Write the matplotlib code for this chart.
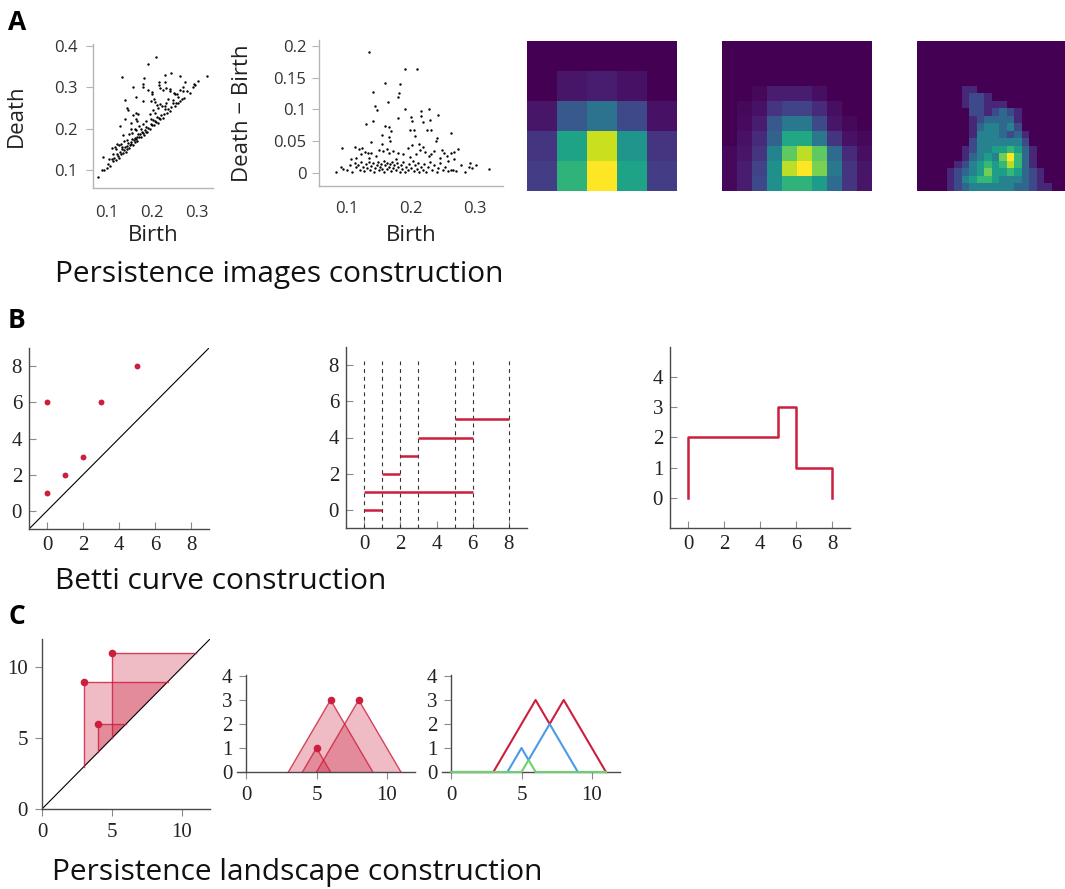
import numpy as np
import matplotlib
matplotlib.use("Agg")
import matplotlib.pyplot as plt

# ----------------------------------
# DATA
# ----------------------------------

# panel A: persistence diagram, (birth, death - birth)
births = [
    0.134, 0.141, 0.159, 0.191, 0.210, 0.182, 0.181, 0.180, 0.164, 0.191,
    0.144, 0.147, 0.141, 0.130, 0.228, 0.215, 0.200, 0.201, 0.216, 0.218,
    0.242, 0.180, 0.230, 0.225, 0.232, 0.159, 0.166, 0.169, 0.154, 0.166,
    0.167, 0.198, 0.204, 0.241, 0.239, 0.263, 0.206, 0.137, 0.155,
    0.092, 0.112, 0.118, 0.124, 0.128, 0.132, 0.138, 0.121, 0.145, 0.150,
    0.156, 0.162, 0.166, 0.172, 0.180, 0.188, 0.196, 0.202, 0.212, 0.219,
    0.214, 0.222, 0.208, 0.232, 0.236, 0.249, 0.252, 0.256, 0.262, 0.268,
    0.274, 0.246, 0.228, 0.198, 0.176, 0.114, 0.106, 0.134, 0.268, 0.258,
    0.082, 0.090, 0.094, 0.100, 0.104, 0.108, 0.112, 0.114, 0.117, 0.120,
    0.122, 0.125, 0.127, 0.130, 0.131, 0.134, 0.136, 0.138, 0.140, 0.142,
    0.144, 0.146, 0.148, 0.150, 0.151, 0.153, 0.155, 0.157, 0.158, 0.160,
    0.162, 0.163, 0.165, 0.167, 0.168, 0.170, 0.172, 0.174, 0.176, 0.178,
    0.180, 0.182, 0.184, 0.186, 0.188, 0.190, 0.192, 0.195, 0.197, 0.200,
    0.203, 0.205, 0.207, 0.209, 0.211, 0.213, 0.215, 0.218, 0.220, 0.224,
    0.227, 0.230, 0.233, 0.236, 0.240, 0.243, 0.246, 0.250, 0.253, 0.258,
    0.262, 0.266, 0.271, 0.278, 0.284, 0.290, 0.293, 0.296, 0.301, 0.322,
]
persist = [
    0.190, 0.128, 0.142, 0.164, 0.163, 0.140, 0.126, 0.120, 0.112, 0.101,
    0.105, 0.099, 0.082, 0.077, 0.101, 0.097, 0.088, 0.082, 0.089, 0.080,
    0.091, 0.086, 0.083, 0.067, 0.067, 0.074, 0.072, 0.066, 0.059, 0.057,
    0.051, 0.068, 0.068, 0.055, 0.051, 0.063, 0.058, 0.048, 0.045,
    0.040, 0.041, 0.038, 0.040, 0.033, 0.031, 0.032, 0.030, 0.027, 0.036,
    0.034, 0.037, 0.031, 0.035, 0.032, 0.030, 0.040, 0.044, 0.045, 0.041,
    0.036, 0.033, 0.030, 0.030, 0.035, 0.036, 0.031, 0.027, 0.032, 0.033,
    0.038, 0.024, 0.026, 0.025, 0.022, 0.024, 0.022, 0.023, 0.022, 0.019,
    0.002, 0.010, 0.007, 0.004, 0.012, 0.002, 0.015, 0.009, 0.013, 0.005,
    0.017, 0.010, 0.003, 0.014, 0.008, 0.018, 0.005, 0.011, 0.015, 0.002,
    0.008, 0.012, 0.017, 0.004, 0.010, 0.014, 0.007, 0.019, 0.002, 0.012,
    0.016, 0.006, 0.010, 0.014, 0.003, 0.018, 0.008, 0.012, 0.004, 0.015,
    0.009, 0.002, 0.013, 0.006, 0.017, 0.001, 0.010, 0.004, 0.014, 0.008,
    0.019, 0.003, 0.012, 0.006, 0.016, 0.001, 0.010, 0.005, 0.014, 0.002,
    0.009, 0.018, 0.004, 0.012, 0.002, 0.008, 0.015, 0.004, 0.010, 0.003,
    0.004, 0.005, 0.003, 0.013, 0.001, 0.010, 0.015, 0.008, 0.013, 0.006,
]

# panel A: persistence images at three resolutions
img_coarse = [
    [0.00, 0.00, 0.00, 0.00, 0.00],
    [0.00, 0.06, 0.08, 0.05, 0.00],
    [0.06, 0.28, 0.38, 0.22, 0.05],
    [0.15, 0.58, 0.92, 0.52, 0.15],
    [0.18, 0.65, 1.00, 0.58, 0.18],
]
img_medium = [
    [0, 0, 0, 0, 0, 0, 0, 0, 0, 0],
    [0, 0, 0, 0, 0, 0, 0, 0, 0, 0],
    [0, 0, 0, 0, 0, 0, 0, 0, 0, 0],
    [0, 0, 0.02, 0.08, 0.08, 0.08, 0.04, 0, 0, 0],
    [0, 0.02, 0.05, 0.15, 0.2, 0.2, 0.12, 0.04, 0, 0],
    [0, 0.03, 0.08, 0.28, 0.4, 0.4, 0.22, 0.06, 0.02, 0],
    [0, 0.05, 0.12, 0.32, 0.6, 0.6, 0.4, 0.15, 0.05, 0.02],
    [0.02, 0.06, 0.15, 0.45, 0.75, 0.9, 0.75, 0.35, 0.12, 0.04],
    [0.02, 0.08, 0.2, 0.5, 0.9, 1.0, 0.8, 0.4, 0.15, 0.06],
    [0.02, 0.08, 0.22, 0.5, 0.65, 0.65, 0.55, 0.35, 0.15, 0.06],
]
img_fine_rows = [
    "00000000000000000000",
    "00000000000000000000",
    "00000000000000000000",
    "00000000000000000000",
    "00000000000000000000",
    "00000000000000000000",
    "00000011000000000000",
    "00000012210000000000",
    "00000012211100000000",
    "00000002212321000000",
    "00000001233331000000",
    "00000001344342000000",
    "00000001444323100000",
    "00000002444444200000",
    "00000012445565310000",
    "00000013454796310000",
    "00000124565686310000",
    "00001234575565321000",
    "00001245665444321000",
    "00001234444443321100",
]

# panel B: toy diagram
b_births = [0, 0, 1, 2, 3, 5]
b_deaths = [1, 6, 2, 3, 6, 8]
b_ticks = [0, 2, 4, 6, 8]

# panel C: toy diagram
c_births = [3, 5, 4]
c_deaths = [9, 11, 6]
c_ticks = [0, 5, 10]
c_yticks = [0, 1, 2, 3, 4]

# ----------------------------------
# STYLE
# ----------------------------------
W, H = 1065, 889
RED = '#cc1f3d'
BLUE = '#4a9be6'
GREEN = '#6fcf6f'
SANS = 'Open Sans'
SERIF = 'Liberation Serif'

fig = plt.figure(figsize=(W / 100, H / 100), dpi=100)
fig.patch.set_facecolor('white')


def px_axes(x0, y0, x1, y1):
    return fig.add_axes([x0 / W, 1 - y1 / H, (x1 - x0) / W, (y1 - y0) / H])


def style_a(ax, ypad, xpad):
    for s in ['top', 'right']:
        ax.spines[s].set_visible(False)
    for s in ['left', 'bottom']:
        ax.spines[s].set_color('#b5b5b5')
        ax.spines[s].set_linewidth(1.0)
    ax.tick_params(axis='y', direction='out', length=5, width=0.8,
                   color='#b5b5b5', labelsize=12, labelcolor='#333333', pad=ypad)
    ax.tick_params(axis='x', length=0, labelsize=12, labelcolor='#333333', pad=xpad)
    plt.setp(ax.get_xticklabels() + ax.get_yticklabels(), family=SANS)


def style_serif(ax, direction, length=5):
    for s in ['top', 'right']:
        ax.spines[s].set_visible(False)
    for s in ['left', 'bottom']:
        ax.spines[s].set_color('#4a4a4a')
        ax.spines[s].set_linewidth(1.0)
    ax.tick_params(direction=direction, length=length, width=0.8, color='#8a8a8a',
                   labelsize=15, labelcolor='#222222', pad=5)
    plt.setp(ax.get_xticklabels() + ax.get_yticklabels(), family=SERIF)


births = np.array(births)
persist = np.array(persist)
deaths = births + persist

# ----------------------------------
# PANEL A
# ----------------------------------
ax = px_axes(93, 44, 213, 188)
ax.scatter(births, deaths, s=3, color='black', linewidths=0)
ax.set_xlim(0.07, 0.335)
ax.set_ylim(0.057, 0.404)
ax.set_xticks([0.1, 0.2, 0.3])
ax.set_yticks([0.1, 0.2, 0.3, 0.4])
ax.set_xticklabels(['0.1', '0.2', '0.3'])
ax.set_yticklabels(['0.1', '0.2', '0.3', '0.4'])
style_a(ax, 6, 12)
ax.set_xlabel('Birth', fontsize=16, family=SANS, color='#222222')
ax.set_ylabel('Death', fontsize=16, family=SANS, color='#222222')
ax.xaxis.set_label_coords(0.5, -0.26)
ax.yaxis.set_label_coords(-0.55, 0.5)

ax = px_axes(319, 40, 503, 186)
ax.scatter(births, persist, s=3, color='black', linewidths=0)
ax.set_xlim(0.056, 0.344)
ax.set_ylim(-0.0205, 0.209)
ax.set_xticks([0.1, 0.2, 0.3])
ax.set_yticks([0, 0.05, 0.1, 0.15, 0.2])
ax.set_xticklabels(['0.1', '0.2', '0.3'])
ax.set_yticklabels(['0', '0.05', '0.1', '0.15', '0.2'])
style_a(ax, 4, 11)
ax.set_xlabel('Birth', fontsize=16, family=SANS, color='#222222')
ax.set_ylabel('Death \u2212 Birth', fontsize=16, family=SANS, color='#222222')
ax.xaxis.set_label_coords(0.5, -0.27)
ax.yaxis.set_label_coords(-0.36, 0.5)

img_fine = np.array([[int(c) for c in row] for row in img_fine_rows]) / 9.0
for (x0, x1), img in zip([(527, 677), (722, 872), (917, 1067)],
                         [img_coarse, img_medium, img_fine]):
    ax = px_axes(x0, 41, x1, 191)
    ax.imshow(np.array(img, dtype=float), cmap='viridis', vmin=0, vmax=1,
              interpolation='nearest', aspect='auto')
    ax.axis('off')

fig.text(55 / W, 1 - 282 / H, 'Persistence images construction',
         fontsize=21.5, family=SANS, color='#111111', va='baseline')

# ----------------------------------
# PANEL B
# ----------------------------------
ax = px_axes(29, 348, 209, 529)
ax.plot([-1, 9], [-1, 9], color='black', lw=0.8)
ax.scatter(b_births, b_deaths, s=18, color=RED, zorder=3, linewidths=0)
ax.set_xlim(-1, 9)
ax.set_ylim(-1, 9)
ax.set_xticks(b_ticks)
ax.set_yticks(b_ticks)
style_serif(ax, 'in')

ax = px_axes(346, 347, 527, 528)
for x in sorted(set(b_births + b_deaths)):
    ax.plot([x, x], [-1, 8.2], color='#333333', lw=0.8, ls=(0, (3.5, 3.5)))
for i, (b, d) in enumerate(zip(b_births, b_deaths)):
    ax.plot([b, d], [i, i], color=RED, lw=1.8, solid_capstyle='butt')
ax.set_xlim(-1, 9)
ax.set_ylim(-1, 9)
ax.set_xticks(b_ticks)
ax.set_yticks(b_ticks)
style_serif(ax, 'in')

# betti curve: number of intervals alive on each piece
edges = sorted(set(b_births + b_deaths))
bx, by = [edges[0]], [0]
for lo, hi in zip(edges[:-1], edges[1:]):
    mid = (lo + hi) / 2
    n = sum(1 for b, d in zip(b_births, b_deaths) if b <= mid < d)
    bx += [lo, hi]
    by += [n, n]
bx.append(edges[-1])
by.append(0)
ax = px_axes(670, 347, 850, 528)
ax.plot(bx, by, color=RED, lw=1.8)
ax.set_xlim(-1, 9)
ax.set_ylim(-1, 5)
ax.set_xticks(b_ticks)
ax.set_yticks([0, 1, 2, 3, 4])
style_serif(ax, 'in')

fig.text(55 / W, 1 - 589 / H, 'Betti curve construction',
         fontsize=21.5, family=SANS, color='#111111', va='baseline')

# ----------------------------------
# PANEL C
# ----------------------------------
ax = px_axes(42, 639, 210, 809)
ax.plot([0, 12], [0, 12], color='black', lw=0.8)
for b, d in zip(c_births, c_deaths):
    ax.fill([b, b, d], [b, d, d], color=RED, alpha=0.3, lw=0)
    ax.plot([b, b, d], [b, d, d], color=RED, lw=1.0, alpha=0.8)
ax.scatter(c_births, c_deaths, s=30, color=RED, zorder=3, linewidths=0)
ax.set_xlim(0, 12)
ax.set_ylim(0, 12)
ax.set_xticks(c_ticks)
ax.set_yticks(c_ticks)
style_serif(ax, 'out', 5)

ax = px_axes(237, 675, 415, 772)
for b, d in zip(c_births, c_deaths):
    m, h = (b + d) / 2, (d - b) / 2
    ax.fill([b, m, d], [0, h, 0], color=RED, alpha=0.3, lw=0)
    ax.plot([b, m, d], [0, h, 0], color=RED, lw=1.0, alpha=0.8)
    ax.scatter([m], [h], s=30, color=RED, zorder=3, linewidths=0)
ax.spines['left'].set_position(('data', 0))
ax.set_xlim(-0.65, 12)
ax.set_ylim(0, 4.04)
ax.set_xticks(c_ticks)
ax.set_yticks(c_yticks)
style_serif(ax, 'out', 5)

# landscapes: k-th largest tent function
t = np.linspace(0, 11, 2201)
tents = np.array([np.maximum(0, np.minimum(t - b, d - t))
                  for b, d in zip(c_births, c_deaths)])
lams = -np.sort(-tents, axis=0)
ax = px_axes(442, 675, 620, 772)
for lam, col in zip(lams, [RED, BLUE, GREEN]):
    ax.plot(t, lam, color=col, lw=1.5, clip_on=False, zorder=3)
ax.spines['left'].set_position(('data', 0))
ax.set_xlim(-0.65, 12)
ax.set_ylim(0, 4.04)
ax.set_xticks(c_ticks)
ax.set_yticks(c_yticks)
style_serif(ax, 'out', 5)

fig.text(52 / W, 1 - 880 / H, 'Persistence landscape construction',
         fontsize=21.5, family=SANS, color='#111111', va='baseline')

for lab, y in [('A', 30), ('B', 328), ('C', 624)]:
    fig.text(8 / W, 1 - y / H, lab, fontsize=19, fontweight='bold',
             family=SANS, va='baseline')

fig.savefig('out.png', dpi=100)
